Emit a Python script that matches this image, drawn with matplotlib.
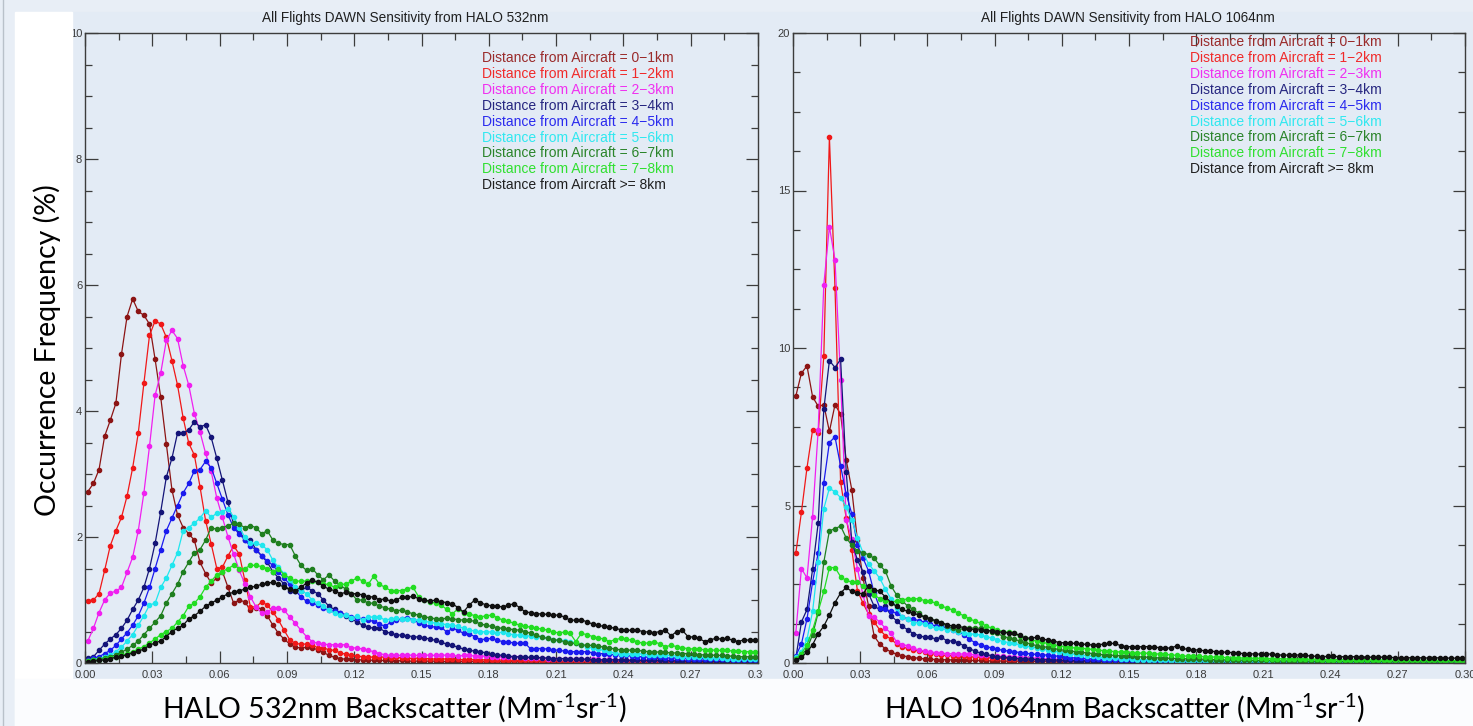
import numpy as np
import matplotlib.pyplot as plt
from matplotlib.patches import Rectangle
from matplotlib.lines import Line2D
from matplotlib.ticker import MultipleLocator, FormatStrFormatter

W, H = 1473, 726

# histogram bins: 0.0025 Mm-1 sr-1 wide, 0 - 0.30
bin_width = 0.0025
n_bins = 120

ranges = ['= 0\u22121km', '= 1\u22122km', '= 2\u22123km', '= 3\u22124km', '= 4\u22125km',
          '= 5\u22126km', '= 6\u22127km', '= 7\u22128km', '>= 8km']
line_colors = ['#8c1414', '#f01818', '#f020f0', '#141478', '#1a1aee',
               '#20e6ee', '#1f7f1f', '#22dd22', '#101010']
text_colors = ['#9a2a2a', '#f02a2a', '#f030f0', '#262680', '#2a2aee',
               '#30e8f0', '#2a842a', '#30e030', '#202020']

# ---- 532 nm occurrence frequency (%) per distance bin ----
d0_532 = [2.72, 2.85, 3.07, 3.60, 3.85, 4.12, 4.90, 5.50, 5.78, 5.58,
          5.52, 5.38, 4.82, 4.22, 3.48, 2.75, 2.35, 2.15, 2.05, 1.95,
          1.60, 1.42, 1.27, 1.35, 1.45, 1.20, 0.95, 1.00, 0.97, 0.84,
          0.88, 0.86, 0.75, 0.60, 0.47, 0.38, 0.30, 0.25, 0.24, 0.25,
          0.24, 0.21, 0.17, 0.12, 0.09, 0.07, 0.06, 0.06, 0.05, 0.05,
          0.05, 0.04, 0.04, 0.04, 0.04, 0.03, 0.04, 0.03, 0.03, 0.03,
          0.03, 0.03, 0.03, 0.03, 0.02, 0.03, 0.03, 0.02, 0.02, 0.03,
          0.02, 0.02, 0.02, 0.02, 0.02, 0.02, 0.02, 0.02, 0.02, 0.01,
          0.02, 0.02, 0.01, 0.01, 0.02, 0.01, 0.01, 0.01, 0.01, 0.01,
          0.01, 0.01, 0.02, 0.01, 0.01, 0.01, 0.01, 0.01, 0.01, 0.01,
          0.01, 0.01, 0.01, 0.01, 0.01, 0.01, 0.01, 0.01, 0.01, 0.01,
          0.01, 0.01, 0.01, 0.01, 0.01, 0.01, 0.01, 0.01, 0.01, 0.01]
d1_532 = [0.99, 1.00, 1.10, 1.47, 1.86, 2.10, 2.31, 2.65, 3.10, 3.65,
          4.44, 5.20, 5.43, 5.38, 5.17, 4.80, 4.41, 3.89, 3.49, 3.30,
          2.80, 2.26, 1.89, 1.50, 1.52, 1.70, 1.86, 1.73, 1.31, 0.89,
          0.89, 0.97, 0.92, 0.81, 0.68, 0.52, 0.37, 0.31, 0.30, 0.30,
          0.29, 0.24, 0.24, 0.21, 0.20, 0.16, 0.14, 0.12, 0.11, 0.10,
          0.10, 0.09, 0.10, 0.09, 0.08, 0.09, 0.08, 0.08, 0.07, 0.08,
          0.07, 0.07, 0.06, 0.07, 0.06, 0.06, 0.06, 0.05, 0.06, 0.05,
          0.05, 0.05, 0.05, 0.04, 0.05, 0.04, 0.04, 0.04, 0.04, 0.04,
          0.04, 0.03, 0.04, 0.03, 0.03, 0.03, 0.03, 0.03, 0.03, 0.03,
          0.03, 0.03, 0.03, 0.02, 0.03, 0.02, 0.02, 0.02, 0.02, 0.02,
          0.02, 0.02, 0.02, 0.02, 0.02, 0.02, 0.02, 0.02, 0.02, 0.02,
          0.02, 0.02, 0.02, 0.02, 0.02, 0.02, 0.01, 0.02, 0.01, 0.01]
d2_532 = [0.35, 0.55, 0.80, 1.00, 1.11, 1.14, 1.20, 1.44, 1.68, 2.10,
          2.70, 3.44, 4.25, 4.60, 5.12, 5.28, 5.15, 4.72, 4.41, 3.96,
          3.67, 3.33, 3.04, 2.62, 2.31, 2.00, 1.73, 1.47, 1.26, 1.05,
          0.89, 0.79, 0.81, 0.87, 0.87, 0.84, 0.73, 0.63, 0.52, 0.42,
          0.34, 0.31, 0.30, 0.29, 0.29, 0.29, 0.29, 0.24, 0.24, 0.22,
          0.20, 0.18, 0.15, 0.13, 0.12, 0.12, 0.12, 0.13, 0.12, 0.12,
          0.13, 0.12, 0.12, 0.13, 0.12, 0.12, 0.11, 0.12, 0.12, 0.11,
          0.11, 0.11, 0.10, 0.10, 0.10, 0.09, 0.09, 0.09, 0.08, 0.08,
          0.08, 0.08, 0.07, 0.07, 0.07, 0.07, 0.06, 0.06, 0.06, 0.06,
          0.06, 0.06, 0.05, 0.06, 0.05, 0.05, 0.05, 0.05, 0.05, 0.05,
          0.05, 0.05, 0.05, 0.04, 0.05, 0.04, 0.04, 0.04, 0.04, 0.04,
          0.04, 0.04, 0.04, 0.04, 0.04, 0.04, 0.04, 0.04, 0.04, 0.04]
d3_532 = [0.08, 0.10, 0.20, 0.30, 0.38, 0.45, 0.55, 0.68, 0.85, 1.00,
          1.20, 1.50, 1.90, 2.40, 2.95, 3.25, 3.65, 3.65, 3.70, 3.83,
          3.75, 3.78, 3.58, 3.25, 2.90, 2.55, 2.20, 2.10, 1.95, 1.95,
          1.80, 1.70, 1.60, 1.45, 1.35, 1.25, 1.15, 1.15, 1.15, 1.20,
          1.15, 1.10, 1.00, 0.90, 0.85, 0.80, 0.75, 0.70, 0.65, 0.60,
          0.57, 0.55, 0.55, 0.50, 0.47, 0.45, 0.44, 0.43, 0.42, 0.41,
          0.40, 0.38, 0.36, 0.33, 0.30, 0.28, 0.25, 0.22, 0.20, 0.19,
          0.18, 0.16, 0.14, 0.13, 0.12, 0.11, 0.10, 0.10, 0.09, 0.09,
          0.09, 0.08, 0.08, 0.07, 0.07, 0.07, 0.06, 0.06, 0.06, 0.06,
          0.05, 0.05, 0.05, 0.05, 0.05, 0.05, 0.04, 0.04, 0.04, 0.04,
          0.04, 0.04, 0.04, 0.03, 0.04, 0.03, 0.03, 0.03, 0.03, 0.03,
          0.03, 0.03, 0.03, 0.02, 0.03, 0.02, 0.02, 0.02, 0.02, 0.02]
d4_532 = [0.05, 0.08, 0.10, 0.15, 0.20, 0.28, 0.38, 0.48, 0.60, 0.75,
          0.95, 1.20, 1.50, 1.80, 2.10, 2.30, 2.50, 2.70, 2.85, 3.05,
          3.07, 3.20, 3.10, 2.85, 2.60, 2.35, 2.15, 2.05, 1.95, 1.85,
          1.80, 1.70, 1.62, 1.55, 1.45, 1.35, 1.25, 1.15, 1.05, 0.98,
          0.95, 0.92, 0.88, 0.84, 0.82, 0.80, 0.76, 0.73, 0.72, 0.70,
          0.68, 0.66, 0.62, 0.58, 0.65, 0.68, 0.70, 0.72, 0.68, 0.64,
          0.60, 0.58, 0.57, 0.57, 0.49, 0.55, 0.52, 0.47, 0.46, 0.42,
          0.37, 0.38, 0.39, 0.36, 0.34, 0.33, 0.32, 0.31, 0.31, 0.22,
          0.23, 0.23, 0.22, 0.21, 0.20, 0.19, 0.18, 0.18, 0.18, 0.18,
          0.16, 0.15, 0.15, 0.14, 0.13, 0.13, 0.12, 0.11, 0.10, 0.10,
          0.09, 0.09, 0.09, 0.08, 0.08, 0.08, 0.08, 0.07, 0.07, 0.07,
          0.07, 0.06, 0.06, 0.06, 0.06, 0.05, 0.05, 0.05, 0.05, 0.05]
d5_532 = [0.03, 0.05, 0.07, 0.10, 0.12, 0.18, 0.25, 0.35, 0.45, 0.60,
          0.75, 0.92, 0.95, 1.20, 1.35, 1.55, 1.75, 2.10, 2.15, 2.22,
          2.30, 2.42, 2.31, 2.38, 2.40, 2.45, 2.32, 2.15, 2.00, 1.90,
          1.90, 1.87, 1.80, 1.63, 1.52, 1.42, 1.31, 1.21, 1.15, 1.10,
          1.00, 0.95, 0.90, 0.84, 0.79, 0.76, 0.76, 0.72, 0.74, 0.68,
          0.73, 0.73, 0.73, 0.68, 0.70, 0.71, 0.70, 0.70, 0.69, 0.68,
          0.66, 0.65, 0.63, 0.62, 0.61, 0.60, 0.58, 0.55, 0.52, 0.51,
          0.49, 0.50, 0.49, 0.48, 0.49, 0.46, 0.45, 0.44, 0.43, 0.43,
          0.42, 0.41, 0.39, 0.36, 0.36, 0.35, 0.34, 0.32, 0.29, 0.26,
          0.24, 0.22, 0.20, 0.18, 0.16, 0.15, 0.15, 0.14, 0.15, 0.14,
          0.13, 0.13, 0.12, 0.12, 0.12, 0.11, 0.10, 0.10, 0.10, 0.09,
          0.09, 0.08, 0.08, 0.08, 0.07, 0.07, 0.07, 0.06, 0.06, 0.06]
d6_532 = [0.03, 0.05, 0.06, 0.08, 0.10, 0.13, 0.17, 0.22, 0.28, 0.35,
          0.45, 0.55, 0.65, 0.75, 0.95, 1.10, 1.25, 1.45, 1.60, 1.75,
          1.80, 1.95, 2.15, 2.12, 2.15, 2.18, 2.22, 2.20, 2.15, 2.18,
          2.15, 2.05, 2.10, 1.95, 1.90, 1.88, 1.88, 1.70, 1.55, 1.47,
          1.50, 1.40, 1.32, 1.40, 1.30, 1.22, 1.18, 1.10, 1.00, 1.00,
          0.95, 0.95, 0.90, 0.88, 0.85, 0.83, 0.84, 0.81, 0.78, 0.76,
          0.73, 0.72, 0.70, 0.70, 0.71, 0.70, 0.69, 0.68, 0.68, 0.66,
          0.62, 0.60, 0.58, 0.56, 0.55, 0.54, 0.53, 0.52, 0.50, 0.47,
          0.44, 0.41, 0.39, 0.37, 0.36, 0.34, 0.32, 0.31, 0.29, 0.28,
          0.28, 0.27, 0.25, 0.24, 0.22, 0.21, 0.21, 0.20, 0.20, 0.19,
          0.18, 0.18, 0.17, 0.17, 0.16, 0.16, 0.15, 0.15, 0.14, 0.13,
          0.13, 0.13, 0.12, 0.12, 0.11, 0.11, 0.10, 0.10, 0.10, 0.10]
d7_532 = [0.03, 0.04, 0.05, 0.06, 0.08, 0.10, 0.12, 0.15, 0.18, 0.22,
          0.26, 0.32, 0.38, 0.45, 0.50, 0.55, 0.65, 0.75, 0.90, 0.95,
          1.05, 1.20, 1.30, 1.40, 1.45, 1.50, 1.55, 1.50, 1.50, 1.55,
          1.55, 1.53, 1.50, 1.45, 1.50, 1.40, 1.35, 1.30, 1.30, 1.30,
          1.30, 1.28, 1.25, 1.25, 1.20, 1.25, 1.25, 1.30, 1.35, 1.30,
          1.25, 1.38, 1.25, 1.20, 1.15, 1.15, 1.15, 1.18, 1.20, 1.05,
          1.00, 0.97, 0.95, 0.92, 0.85, 0.78, 0.86, 0.80, 0.78, 0.75,
          0.73, 0.75, 0.76, 0.72, 0.68, 0.66, 0.63, 0.60, 0.58, 0.57,
          0.55, 0.54, 0.52, 0.49, 0.48, 0.49, 0.47, 0.34, 0.47, 0.45,
          0.42, 0.40, 0.38, 0.34, 0.37, 0.39, 0.38, 0.36, 0.34, 0.31,
          0.32, 0.34, 0.30, 0.26, 0.28, 0.26, 0.24, 0.23, 0.22, 0.22,
          0.21, 0.21, 0.20, 0.20, 0.20, 0.19, 0.19, 0.18, 0.18, 0.18]
d8_532 = [0.02, 0.03, 0.04, 0.05, 0.07, 0.09, 0.11, 0.13, 0.16, 0.19,
          0.22, 0.28, 0.32, 0.35, 0.42, 0.50, 0.55, 0.60, 0.70, 0.75,
          0.82, 0.90, 0.95, 1.00, 1.05, 1.10, 1.12, 1.15, 1.17, 1.20,
          1.22, 1.25, 1.27, 1.28, 1.25, 1.20, 1.17, 1.15, 1.20, 1.27,
          1.32, 1.28, 1.22, 1.17, 1.15, 1.10, 1.12, 1.10, 1.10, 1.08,
          1.05, 1.05, 1.00, 1.02, 0.98, 1.00, 1.05, 1.04, 1.06, 1.02,
          1.00, 0.98, 1.00, 0.97, 0.96, 0.94, 0.88, 0.81, 0.92, 1.00,
          0.96, 0.92, 0.91, 0.90, 0.89, 0.92, 0.94, 0.88, 0.81, 0.80,
          0.78, 0.78, 0.77, 0.76, 0.76, 0.73, 0.68, 0.68, 0.69, 0.65,
          0.62, 0.60, 0.58, 0.57, 0.55, 0.53, 0.52, 0.52, 0.52, 0.50,
          0.49, 0.48, 0.50, 0.52, 0.43, 0.50, 0.52, 0.42, 0.41, 0.39,
          0.34, 0.37, 0.39, 0.38, 0.39, 0.36, 0.34, 0.37, 0.36, 0.36]

# ---- 1064 nm occurrence frequency (%) per distance bin ----
d0_1064 = [8.47, 9.20, 9.43, 8.45, 8.15, 8.20, 7.35, 8.20, 7.90, 6.45,
           5.50, 3.90, 2.70, 1.80, 0.85, 0.60, 0.45, 0.35, 0.28, 0.23,
           0.20, 0.17, 0.15, 0.13, 0.12, 0.11, 0.11, 0.10, 0.10, 0.09,
           0.09, 0.08, 0.08, 0.08, 0.07, 0.07, 0.07, 0.06, 0.06, 0.06,
           0.06, 0.05, 0.05, 0.05, 0.05, 0.05, 0.04, 0.04, 0.04, 0.04,
           0.04, 0.04, 0.04, 0.03, 0.04, 0.03, 0.03, 0.03, 0.03, 0.03,
           0.03, 0.03, 0.03, 0.03, 0.03, 0.03, 0.02, 0.03, 0.02, 0.02,
           0.02, 0.02, 0.02, 0.02, 0.02, 0.02, 0.02, 0.02, 0.02, 0.02,
           0.02, 0.02, 0.02, 0.02, 0.02, 0.02, 0.02, 0.02, 0.02, 0.02,
           0.02, 0.02, 0.02, 0.02, 0.01, 0.02, 0.01, 0.01, 0.01, 0.01,
           0.01, 0.01, 0.01, 0.01, 0.01, 0.01, 0.01, 0.01, 0.01, 0.01,
           0.01, 0.01, 0.01, 0.01, 0.01, 0.01, 0.01, 0.01, 0.01, 0.01]
d1_1064 = [3.48, 4.78, 6.20, 7.40, 7.30, 9.75, 16.70, 11.90, 5.75, 4.60,
           3.60, 2.30, 1.90, 1.55, 1.30, 1.05, 0.87, 0.76, 0.60, 0.50,
           0.47, 0.42, 0.38, 0.35, 0.30, 0.28, 0.25, 0.24, 0.23, 0.22,
           0.21, 0.20, 0.19, 0.18, 0.17, 0.16, 0.15, 0.15, 0.14, 0.13,
           0.13, 0.12, 0.12, 0.11, 0.11, 0.10, 0.10, 0.10, 0.09, 0.09,
           0.09, 0.08, 0.08, 0.08, 0.08, 0.07, 0.07, 0.07, 0.07, 0.07,
           0.06, 0.06, 0.06, 0.06, 0.06, 0.06, 0.05, 0.05, 0.05, 0.05,
           0.05, 0.05, 0.05, 0.05, 0.04, 0.05, 0.04, 0.04, 0.04, 0.04,
           0.04, 0.04, 0.04, 0.04, 0.04, 0.04, 0.04, 0.04, 0.04, 0.04,
           0.04, 0.03, 0.04, 0.03, 0.03, 0.03, 0.03, 0.03, 0.03, 0.03,
           0.03, 0.03, 0.03, 0.03, 0.03, 0.03, 0.03, 0.03, 0.03, 0.03,
           0.03, 0.03, 0.03, 0.03, 0.03, 0.03, 0.03, 0.03, 0.03, 0.03]
d2_1064 = [0.95, 3.00, 2.70, 4.65, 7.40, 12.00, 13.85, 12.80, 9.00, 4.55,
           3.95, 3.00, 2.15, 1.50, 1.45, 1.30, 1.10, 0.95, 0.67, 0.58,
           0.55, 0.47, 0.41, 0.38, 0.35, 0.33, 0.31, 0.30, 0.29, 0.29,
           0.28, 0.27, 0.26, 0.25, 0.24, 0.23, 0.22, 0.21, 0.20, 0.19,
           0.18, 0.17, 0.16, 0.15, 0.14, 0.13, 0.12, 0.12, 0.11, 0.11,
           0.10, 0.10, 0.09, 0.09, 0.09, 0.08, 0.08, 0.08, 0.07, 0.07,
           0.07, 0.07, 0.06, 0.06, 0.06, 0.06, 0.06, 0.05, 0.05, 0.05,
           0.05, 0.05, 0.05, 0.05, 0.05, 0.04, 0.05, 0.04, 0.04, 0.04,
           0.04, 0.04, 0.04, 0.04, 0.04, 0.04, 0.04, 0.04, 0.04, 0.04,
           0.04, 0.03, 0.04, 0.03, 0.03, 0.03, 0.03, 0.03, 0.03, 0.03,
           0.03, 0.03, 0.03, 0.03, 0.03, 0.03, 0.03, 0.03, 0.03, 0.03,
           0.03, 0.03, 0.03, 0.03, 0.03, 0.03, 0.03, 0.03, 0.03, 0.03]
d3_1064 = [0.14, 1.30, 1.70, 2.98, 4.45, 8.05, 9.60, 9.38, 9.64, 6.07,
           3.85, 3.27, 2.90, 2.20, 1.80, 1.70, 1.80, 1.50, 1.34, 1.17,
           1.05, 0.93, 0.87, 0.82, 0.82, 0.76, 0.82, 0.70, 0.70, 0.64,
           0.55, 0.45, 0.38, 0.31, 0.27, 0.23, 0.20, 0.18, 0.17, 0.15,
           0.14, 0.13, 0.12, 0.11, 0.11, 0.10, 0.09, 0.09, 0.08, 0.08,
           0.07, 0.07, 0.07, 0.06, 0.06, 0.06, 0.06, 0.05, 0.05, 0.05,
           0.05, 0.05, 0.05, 0.04, 0.04, 0.04, 0.04, 0.04, 0.04, 0.04,
           0.04, 0.03, 0.04, 0.03, 0.03, 0.03, 0.03, 0.03, 0.03, 0.03,
           0.03, 0.03, 0.03, 0.03, 0.03, 0.03, 0.03, 0.02, 0.03, 0.02,
           0.02, 0.02, 0.02, 0.02, 0.02, 0.02, 0.02, 0.02, 0.02, 0.02,
           0.02, 0.02, 0.02, 0.02, 0.02, 0.02, 0.02, 0.02, 0.02, 0.02,
           0.02, 0.02, 0.02, 0.02, 0.02, 0.02, 0.02, 0.02, 0.02, 0.02]
d4_1064 = [0.23, 0.60, 1.40, 2.57, 3.50, 5.72, 7.00, 7.18, 6.25, 5.37,
           4.73, 3.74, 3.33, 2.92, 2.22, 1.75, 1.70, 1.64, 1.58, 1.46,
           1.40, 1.40, 1.34, 1.30, 1.23, 1.17, 1.17, 1.10, 1.05, 1.00,
           0.90, 0.75, 0.65, 0.57, 0.52, 0.48, 0.44, 0.40, 0.38, 0.36,
           0.33, 0.31, 0.29, 0.27, 0.26, 0.25, 0.23, 0.21, 0.19, 0.17,
           0.16, 0.15, 0.14, 0.13, 0.12, 0.11, 0.11, 0.10, 0.10, 0.09,
           0.09, 0.08, 0.08, 0.08, 0.07, 0.07, 0.07, 0.06, 0.06, 0.06,
           0.06, 0.05, 0.05, 0.05, 0.05, 0.05, 0.05, 0.04, 0.04, 0.04,
           0.04, 0.04, 0.04, 0.04, 0.04, 0.03, 0.04, 0.03, 0.03, 0.03,
           0.03, 0.03, 0.03, 0.03, 0.03, 0.03, 0.03, 0.03, 0.03, 0.03,
           0.03, 0.03, 0.02, 0.03, 0.02, 0.02, 0.02, 0.02, 0.02, 0.02,
           0.02, 0.02, 0.02, 0.02, 0.02, 0.02, 0.02, 0.02, 0.02, 0.02]
d5_1064 = [0.18, 0.35, 0.76, 1.64, 3.20, 4.90, 5.55, 5.43, 5.25, 4.96,
           4.55, 3.97, 3.50, 3.15, 2.92, 2.69, 2.34, 2.04, 1.75, 1.46,
           1.40, 1.28, 1.28, 1.23, 1.17, 1.10, 1.10, 1.05, 1.05, 1.00,
           0.96, 0.93, 0.91, 0.89, 0.84, 0.79, 0.74, 0.68, 0.65, 0.62,
           0.58, 0.54, 0.51, 0.48, 0.45, 0.41, 0.38, 0.35, 0.32, 0.30,
           0.27, 0.25, 0.23, 0.21, 0.19, 0.17, 0.16, 0.15, 0.14, 0.13,
           0.12, 0.11, 0.10, 0.09, 0.09, 0.08, 0.08, 0.07, 0.07, 0.07,
           0.06, 0.06, 0.06, 0.06, 0.05, 0.05, 0.05, 0.05, 0.05, 0.05,
           0.05, 0.04, 0.05, 0.04, 0.04, 0.04, 0.04, 0.04, 0.04, 0.04,
           0.04, 0.04, 0.04, 0.03, 0.04, 0.03, 0.03, 0.03, 0.03, 0.03,
           0.03, 0.03, 0.03, 0.03, 0.03, 0.03, 0.03, 0.03, 0.03, 0.03,
           0.03, 0.03, 0.03, 0.03, 0.03, 0.03, 0.03, 0.03, 0.03, 0.03]
d6_1064 = [0.14, 0.25, 0.45, 0.90, 1.60, 3.20, 4.20, 4.26, 4.35, 3.97,
           3.74, 3.56, 3.50, 3.44, 3.32, 3.10, 2.92, 2.45, 2.16, 1.98,
           1.80, 1.70, 1.58, 1.46, 1.40, 1.34, 1.28, 1.17, 1.10, 1.05,
           1.10, 1.12, 1.10, 1.10, 1.05, 1.00, 0.95, 0.84, 0.80, 0.75,
           0.70, 0.65, 0.60, 0.55, 0.52, 0.50, 0.46, 0.43, 0.40, 0.38,
           0.36, 0.34, 0.32, 0.30, 0.28, 0.26, 0.25, 0.24, 0.23, 0.22,
           0.21, 0.20, 0.19, 0.18, 0.17, 0.16, 0.15, 0.15, 0.14, 0.14,
           0.13, 0.13, 0.12, 0.12, 0.11, 0.11, 0.10, 0.10, 0.10, 0.09,
           0.09, 0.09, 0.08, 0.08, 0.08, 0.08, 0.07, 0.07, 0.07, 0.07,
           0.07, 0.06, 0.06, 0.06, 0.06, 0.06, 0.06, 0.05, 0.05, 0.05,
           0.05, 0.05, 0.05, 0.05, 0.05, 0.05, 0.04, 0.05, 0.04, 0.04,
           0.04, 0.04, 0.04, 0.04, 0.04, 0.04, 0.04, 0.04, 0.04, 0.04]
d7_1064 = [0.12, 0.30, 0.58, 1.05, 1.64, 2.27, 3.03, 3.03, 2.74, 2.62,
           2.57, 2.57, 2.45, 2.33, 2.16, 2.04, 1.98, 1.92, 1.98, 2.00,
           2.04, 2.04, 2.04, 1.98, 1.96, 1.90, 1.80, 1.75, 1.68, 1.58,
           1.50, 1.40, 1.33, 1.26, 1.18, 1.10, 1.05, 1.00, 0.97, 0.94,
           0.85, 0.80, 0.73, 0.70, 0.66, 0.62, 0.58, 0.55, 0.52, 0.50,
           0.47, 0.47, 0.45, 0.43, 0.41, 0.39, 0.38, 0.36, 0.35, 0.34,
           0.33, 0.32, 0.31, 0.31, 0.30, 0.28, 0.27, 0.26, 0.24, 0.22,
           0.22, 0.21, 0.21, 0.20, 0.19, 0.19, 0.18, 0.17, 0.17, 0.16,
           0.16, 0.15, 0.15, 0.15, 0.14, 0.14, 0.14, 0.13, 0.13, 0.13,
           0.12, 0.12, 0.12, 0.12, 0.11, 0.11, 0.11, 0.11, 0.10, 0.10,
           0.10, 0.10, 0.10, 0.09, 0.10, 0.09, 0.09, 0.09, 0.09, 0.08,
           0.09, 0.08, 0.08, 0.08, 0.08, 0.08, 0.07, 0.08, 0.07, 0.07]
d8_1064 = [0.10, 0.18, 0.35, 0.58, 0.93, 1.17, 1.52, 1.92, 2.22, 2.40,
           2.27, 2.22, 2.20, 2.45, 2.33, 2.27, 2.10, 1.92, 1.80, 1.70,
           1.64, 1.58, 1.52, 1.46, 1.40, 1.34, 1.28, 1.22, 1.17, 1.17,
           1.12, 1.08, 1.06, 1.05, 1.03, 1.02, 1.00, 0.97, 0.96, 0.94,
           0.88, 0.78, 0.80, 0.81, 0.76, 0.73, 0.70, 0.65, 0.64, 0.63,
           0.62, 0.60, 0.59, 0.57, 0.58, 0.60, 0.62, 0.62, 0.55, 0.52,
           0.52, 0.51, 0.52, 0.52, 0.50, 0.49, 0.47, 0.48, 0.54, 0.47,
           0.43, 0.42, 0.41, 0.39, 0.38, 0.36, 0.35, 0.34, 0.33, 0.31,
           0.30, 0.29, 0.29, 0.28, 0.29, 0.28, 0.26, 0.25, 0.25, 0.26,
           0.25, 0.24, 0.22, 0.21, 0.20, 0.21, 0.21, 0.20, 0.20, 0.20,
           0.20, 0.19, 0.19, 0.18, 0.18, 0.19, 0.18, 0.17, 0.16, 0.16,
           0.17, 0.17, 0.16, 0.16, 0.17, 0.16, 0.15, 0.16, 0.15, 0.17]

series_532 = [d0_532, d1_532, d2_532, d3_532, d4_532, d5_532, d6_532, d7_532, d8_532]
series_1064 = [d0_1064, d1_1064, d2_1064, d3_1064, d4_1064, d5_1064, d6_1064, d7_1064, d8_1064]

x = (np.arange(n_bins) + 0.5) * bin_width  # bin centres


def fx(px):
    return px / W


def fy(py):
    return 1 - py / H


SLIDE = '#e8eef6'
PANEL = '#e3ebf5'
fig = plt.figure(figsize=(W / 100, H / 100), dpi=100, facecolor=SLIDE)

# background of the two pasted plot images
fig.add_artist(Rectangle((fx(72), fy(680)), fx(763 - 72), (680 - 12) / H,
                         transform=fig.transFigure, color=PANEL, zorder=-1))
fig.add_artist(Rectangle((fx(763), fy(681)), fx(W - 763), (681 - 12) / H,
                         transform=fig.transFigure, color=PANEL, zorder=0.5))


def make_panel(rect, series, ymax, ymajor, yminor, title, title_x, leg_x, leg_y0):
    ax = fig.add_axes(rect, facecolor=PANEL)
    for vals, c in zip(series, line_colors):
        ax.plot(x, vals, '-o', color=c, lw=0.9, ms=3.0, mec=c)
    ax.set_xlim(0, 0.30)
    ax.set_ylim(0, ymax)
    ax.xaxis.set_major_locator(MultipleLocator(0.03))
    ax.xaxis.set_minor_locator(MultipleLocator(0.015))
    ax.yaxis.set_major_locator(MultipleLocator(ymajor))
    ax.yaxis.set_minor_locator(MultipleLocator(yminor))
    ax.xaxis.set_major_formatter(FormatStrFormatter('%.2f'))
    ax.yaxis.set_major_formatter(FormatStrFormatter('%d'))
    ax.tick_params(which='both', direction='in', top=True, right=True,
                   color='#3c3c3c', labelsize=8, labelcolor='#3a3a3a')
    ax.tick_params(which='major', length=9, width=0.9)
    ax.tick_params(which='minor', length=5, width=0.9)
    ax.tick_params(axis='x', pad=5)
    ax.tick_params(axis='y', pad=2)
    for lab in ax.get_xticklabels() + ax.get_yticklabels():
        lab.set_family('Liberation Sans')
    for s in ax.spines.values():
        s.set_color('#3c3c3c')
        s.set_linewidth(1.0)
    fig.text(fx(title_x), fy(18), title, ha='center', va='center',
             fontsize=9.8, family='Liberation Sans', color='#202020')
    for k, (r, c) in enumerate(zip(ranges, text_colors)):
        fig.text(fx(leg_x), fy(leg_y0 + k * 15.9), 'Distance from Aircraft ' + r,
                 ha='left', va='center', fontsize=10, family='Liberation Sans',
                 color=c, zorder=5)
    return ax


ax1 = make_panel([fx(85), fy(663), fx(758 - 85), (663 - 33) / H], series_532,
                 10, 2, 0.5, 'All Flights DAWN Sensitivity from HALO 532nm', 405, 482, 58)
ax2 = make_panel([fx(793), fy(663), fx(1465 - 793), (663 - 33) / H], series_1064,
                 20, 5, 1.25, 'All Flights DAWN Sensitivity from HALO 1064nm', 1128, 1190, 42)
ax2.set_zorder(1)

# slide elements: white strips, slide edge, axis captions
fig.add_artist(Rectangle((fx(15), 0), fx(72 - 15), fy(12), transform=fig.transFigure,
                         color='white', zorder=2))
fig.add_artist(Rectangle((fx(15), 0), fx(W - 15), fy(679), transform=fig.transFigure,
                         color='#fbfcfe', zorder=2))
fig.add_artist(Line2D([fx(3), fx(3)], [0, 1], transform=fig.transFigure,
                      color='#b9c1ca', lw=1, zorder=2))

plt.rcParams['mathtext.fontset'] = 'custom'
plt.rcParams['mathtext.rm'] = 'Lato'
sup = r'$^{\mathregular{' + '\u2010' + r'1}}$'
fig.text(fx(47), fy(350), 'Occurrence Frequency (%)', rotation=90, ha='center', va='center',
         fontsize=20.5, family='Lato', color='black', zorder=3)
fig.text(fx(394), fy(708), 'HALO 532nm Backscatter (Mm' + sup + 'sr' + sup + ')',
         ha='center', va='center', fontsize=20.5, family='Lato', color='black', zorder=3)
fig.text(fx(1125), fy(708), 'HALO 1064nm Backscatter (Mm' + sup + 'sr' + sup + ')',
         ha='center', va='center', fontsize=20.5, family='Lato', color='black', zorder=3)

fig.savefig('out.png', dpi=100, facecolor=SLIDE)
